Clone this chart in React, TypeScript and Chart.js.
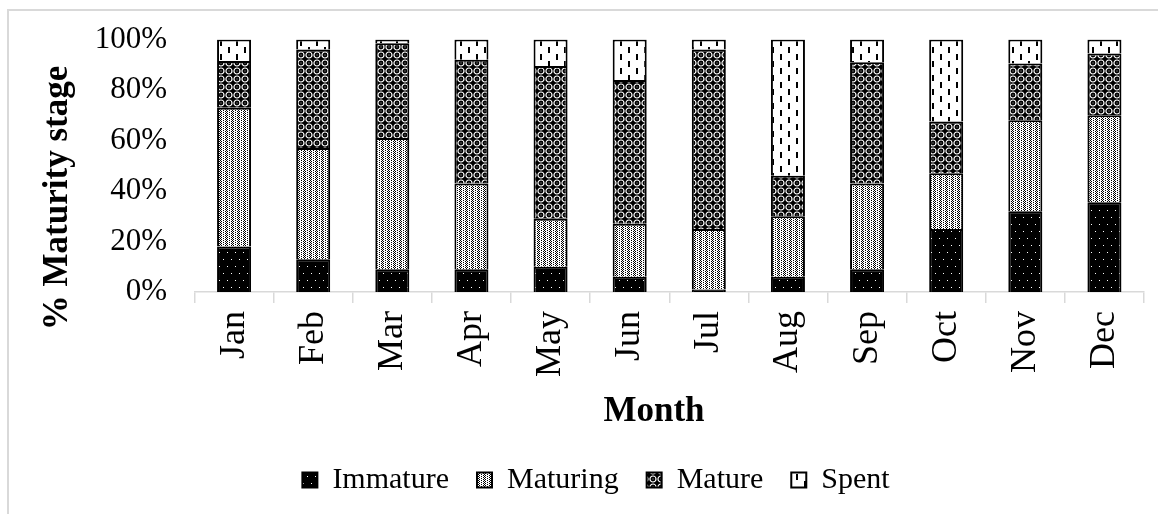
import React, { useEffect, useRef } from "react";
import { Chart, registerables } from "chart.js";

Chart.register(...registerables);

// Monthly share (%) of each gonad maturity stage
const months = ["Jan", "Feb", "Mar", "Apr", "May", "Jun", "Jul", "Aug", "Sep", "Oct", "Nov", "Dec"];
const immature = [18, 13, 9, 9, 10, 6, 1, 6, 9, 25, 32, 35.5];
const maturing = [55, 44, 52, 34, 19, 21, 24, 24, 34, 22, 36, 34.5];
const mature = [18.5, 39, 37.5, 49, 60.5, 57, 71, 16, 48, 20.5, 22.5, 24.5];
const spent = [8.5, 4, 1.5, 8, 10.5, 16, 4, 54, 9, 32.5, 9.5, 5.5];
const yTicks = [0, 20, 40, 60, 80, 100];

const SERIF = "'Liberation Serif', 'Times New Roman', serif";

type Painter = (g: CanvasRenderingContext2D) => void;

function makePattern(ctx: CanvasRenderingContext2D, w: number, h: number, paint: Painter): CanvasPattern {
  const tile = document.createElement("canvas");
  tile.width = w;
  tile.height = h;
  const g = tile.getContext("2d")!;
  paint(g);
  return ctx.createPattern(tile, "repeat")!;
}

export default function App() {
  const canvasRef = useRef<HTMLCanvasElement>(null);

  useEffect(() => {
    const canvas = canvasRef.current!;
    const ctx = canvas.getContext("2d")!;

    // black with sparse white dots
    const immaturePat = makePattern(ctx, 8, 14, (g) => {
      g.fillStyle = "#000";
      g.fillRect(0, 0, 8, 14);
      g.fillStyle = "#fff";
      g.fillRect(2, 3, 1, 1);
      g.fillRect(6, 10, 1, 1);
    });

    // light dotted grid
    const maturingPat = makePattern(ctx, 6, 4, (g) => {
      g.fillStyle = "#fff";
      g.fillRect(0, 0, 6, 4);
      g.fillStyle = "#000";
      const px: [number, number][] = [[0, 0], [2, 0], [1, 1], [0, 2], [2, 2], [1, 3], [4, 1], [4, 3]];
      px.forEach(([x, y]) => g.fillRect(x, y, 1, 1));
    });

    // dark with white rings
    const maturePat = makePattern(ctx, 8, 8, (g) => {
      g.fillStyle = "#000";
      g.fillRect(0, 0, 8, 8);
      g.strokeStyle = "#fff";
      g.lineWidth = 1.2;
      g.beginPath();
      g.arc(4, 4, 3, 0, Math.PI * 2);
      g.stroke();
      g.fillStyle = "#bbb";
      g.fillRect(3.5, 3.5, 1, 1);
    });

    // white with short vertical dashes
    const spentPat = makePattern(ctx, 16, 14, (g) => {
      g.fillStyle = "#fff";
      g.fillRect(0, 0, 16, 14);
      g.fillStyle = "#000";
      g.fillRect(3, 1, 2, 6);
      g.fillRect(11, 8, 2, 6);
    });

    const axisTitles = {
      id: "axisTitles",
      afterDraw(chart: Chart) {
        const { ctx: c, chartArea } = chart;
        c.save();
        c.fillStyle = "#000";
        c.font = `bold 35px ${SERIF}`;
        c.textAlign = "center";
        c.textBaseline = "alphabetic";
        c.fillText("Month", chartArea.left + 459.5, chartArea.bottom + 129);
        c.translate(chartArea.left - 127.5, chartArea.top + 158.5);
        c.rotate(-Math.PI / 2);
        c.fillText("% Maturity stage", 0, 0);
        c.restore();
      },
    };

    const common = {
      borderColor: "#000",
      borderWidth: 2,
      barPercentage: 0.43,
      categoryPercentage: 1,
    };

    const chart = new Chart(ctx, {
      type: "bar",
      data: {
        labels: months,
        datasets: [
          { label: "Immature", data: immature, backgroundColor: immaturePat, ...common },
          { label: "Maturing", data: maturing, backgroundColor: maturingPat, ...common },
          { label: "Mature", data: mature, backgroundColor: maturePat, ...common },
          { label: "Spent", data: spent, backgroundColor: spentPat, ...common },
        ],
      },
      options: {
        responsive: false,
        animation: false,
        layout: { padding: { left: 39, right: 14, top: 28.5, bottom: 9 } },
        scales: {
          x: {
            stacked: true,
            grid: {
              display: true,
              drawOnChartArea: false,
              drawTicks: true,
              tickLength: 11,
              color: "#d9d9d9",
              lineWidth: 1.5,
            },
            border: { display: true, color: "#d9d9d9", width: 1.5 },
            ticks: {
              color: "#000",
              font: { family: SERIF, size: 36 },
              minRotation: 90,
              maxRotation: 90,
              padding: 8,
              autoSkip: false,
            },
            afterFit(scale: any) {
              scale.height = 145;
            },
          },
          y: {
            stacked: true,
            min: 0,
            max: 100,
            // hidden tick marks only reserve the gap between labels and bars
            grid: { display: false, drawTicks: true, tickLength: 27.5 },
            border: { display: false },
            ticks: {
              color: "#000",
              font: { family: SERIF, size: 31 },
              padding: 0,
              callback: (v: any) => `${v}%`,
            },
            afterBuildTicks(scale: any) {
              scale.ticks = yTicks.map((value) => ({ value }));
            },
            afterFit(scale: any) {
              scale.width = 185.5 - 39;
            },
          },
        },
        plugins: {
          legend: {
            position: "bottom",
            labels: {
              color: "#000",
              font: { family: SERIF, size: 30 },
              boxWidth: 15,
              boxHeight: 15,
              padding: 28,
            },
          },
          tooltip: { enabled: false },
        },
      },
      plugins: [axisTitles],
    });

    return () => chart.destroy();
  }, []);

  return (
    <div
      style={{
        position: "absolute",
        left: 7,
        top: 9,
        borderLeft: "2px solid #d9d9d9",
        borderTop: "2px solid #d9d9d9",
        background: "#fff",
      }}
    >
      <canvas ref={canvasRef} width={1149} height={503} style={{ display: "block" }} />
    </div>
  );
}
